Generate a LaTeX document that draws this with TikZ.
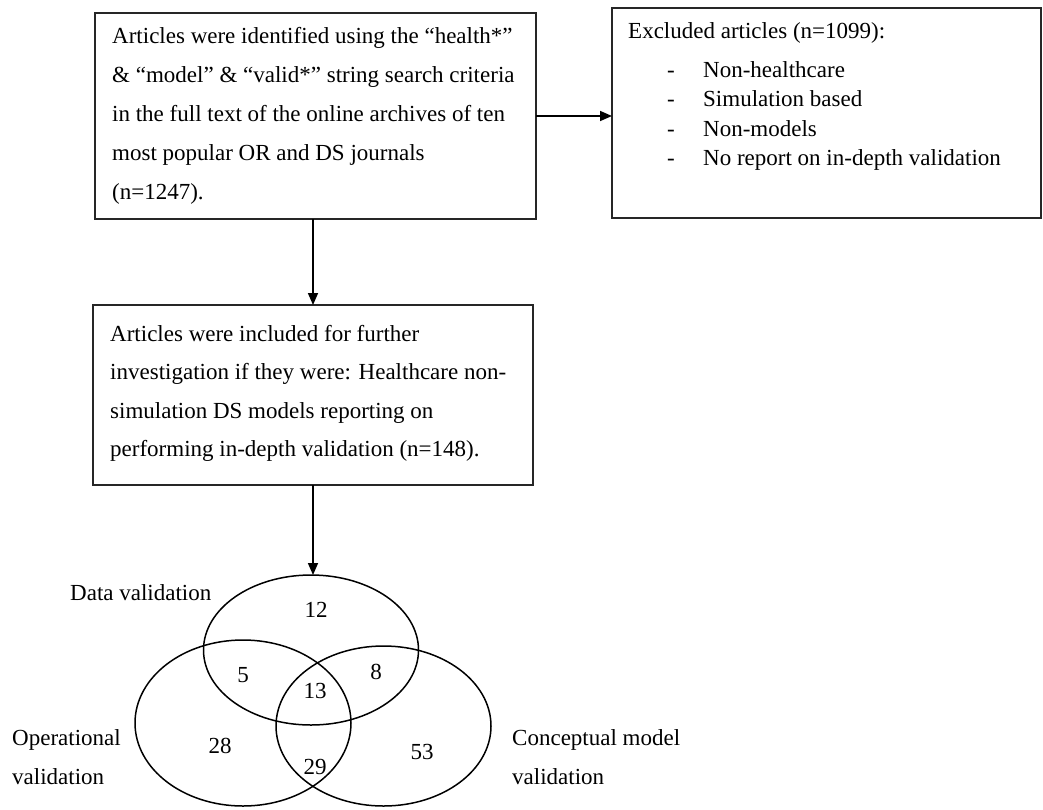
\documentclass[tikz,border=0pt]{standalone}
\usepackage{fontspec}
\setmainfont{Liberation Serif}
\usetikzlibrary{arrows.meta,shapes.geometric}
\begin{document}
\begin{tikzpicture}[x=1pt,y=-1pt,
  box/.style={draw=black!85, line width=1.5pt, rectangle, inner sep=0pt, outer sep=0pt, anchor=north west},
  txt/.style={anchor=base west, align=left, inner sep=0pt, font=\fontsize{23}{39}\selectfont},
  lst/.style={anchor=base west, align=left, inner sep=0pt, font=\fontsize{23}{29.5}\selectfont},
  arr/.style={line width=1.6pt, -{Triangle[length=12pt,width=10pt]}},
  venn/.style={draw, ellipse, line width=1.5pt, inner sep=0pt, outer sep=0pt},
  num/.style={inner sep=0pt, font=\fontsize{23}{28}\selectfont},
  lab/.style={anchor=base west, align=left, inner sep=0pt, font=\fontsize{23}{39.5}\selectfont}]
\useasboundingbox (0,0) rectangle (1043,809);
% boxes (text nodes anchored at the baseline of their last line)
\node[box, minimum width=441pt, minimum height=206pt] (b1) at (95,13) {};
\node[txt] (t1) at (112,199) {Articles were identified using the “health*”\\
  \& “model” \& “valid*” string search criteria\\
  in the full text of the online archives of ten\\
  most popular OR and DS journals\\
  (n=1247).};
\node[box, minimum width=429pt, minimum height=210pt] (b2) at (612,8) {};
\node[txt] (t2) at (628,38) {Excluded articles (n=1099):};
\node[lst] (t2l) at (667,165.5) {\makebox[36pt][l]{-}Non-healthcare\\
  \makebox[36pt][l]{-}Simulation based\\
  \makebox[36pt][l]{-}Non-models\\
  \makebox[36pt][l]{-}No report on in-depth validation};
\node[box, minimum width=440pt, minimum height=180pt] (b3) at (93,305) {};
\node[txt, font=\fontsize{23}{38.5}\selectfont] (t3) at (110,456.5) {Articles were included for further\\
  investigation if they were: Healthcare non-\\
  simulation DS models reporting on\\
  performing in-depth validation (n=148).};
% venn
\node[venn, minimum width=215pt, minimum height=150pt] (e1) at (311,650) {};
\node[venn, minimum width=216pt, minimum height=166pt] (e2) at (243,723) {};
\node[venn, minimum width=215pt, minimum height=160pt] (e3) at (383.5,726) {};
% arrows
\draw[arr] (b1.east) -- (b1.east -| b2.west);
\draw[arr] (b1.south -| b3.north) -- (b3.north);
\draw[arr] (b3.south) -- (b3.south |- e1.north);
% numbers
\node[num] (n12) at (316,610) {12};
\node[num] (n5) at (243,675) {5};
\node[num] (n13) at (315,691) {13};
\node[num] (n8) at (376,672) {8};
\node[num] (n28) at (220,746) {28};
\node[num] (n29) at (315,767) {29};
\node[num] (n53) at (422,752) {53};
% labels
\node[lab] (ld) at (70,600) {Data validation};
\node[lab] (lo) at (12,784.5) {Operational\\validation};
\node[lab] (lc) at (512,784.5) {Conceptual model\\validation};
\end{tikzpicture}
\end{document}
